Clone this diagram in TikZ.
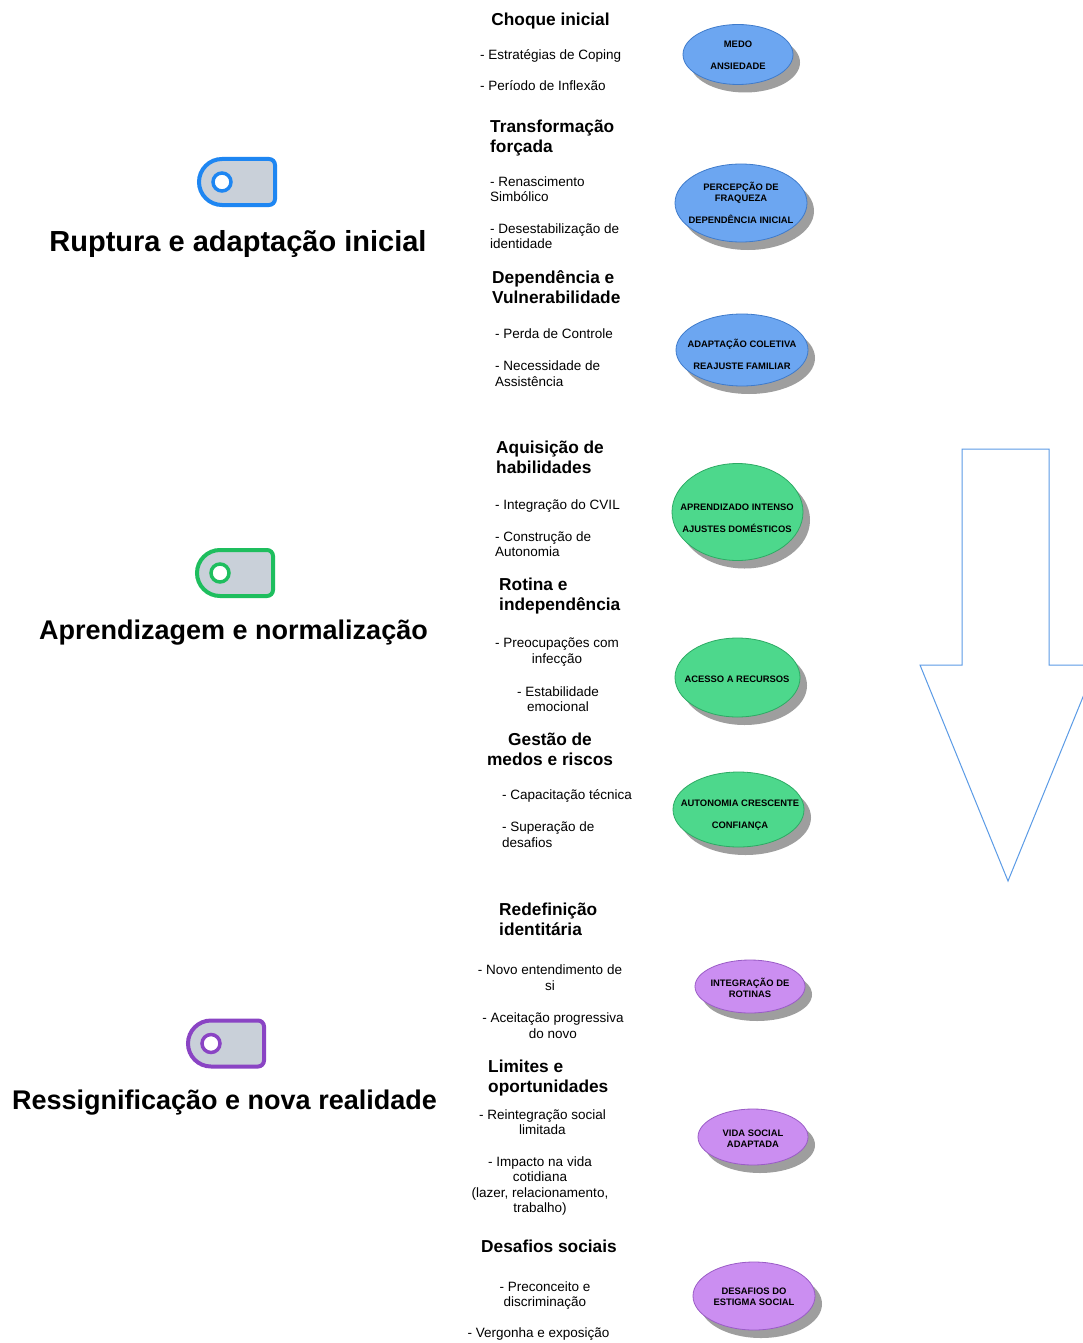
\documentclass[tikz,border=0pt]{standalone}
\usepackage{fontspec}
\setmainfont{Liberation Sans}
\definecolor{tblue}{HTML}{1E86F2}
\definecolor{tgreen}{HTML}{1EBE5E}
\definecolor{tpurple}{HTML}{8A44C4}
\definecolor{tgray}{HTML}{C9D0D9}
\definecolor{oblue}{HTML}{6CA6F1}
\definecolor{obluedark}{HTML}{3F7BCB}
\definecolor{ogreen}{HTML}{4DD88C}
\definecolor{ogreendark}{HTML}{2DAA64}
\definecolor{opurple}{HTML}{CB8EF1}
\definecolor{opurpledark}{HTML}{9A5CC6}
\definecolor{arrowc}{HTML}{5B9BE6}
\newcommand\drawoval[9]{% name, ex, ey, rx, ry, style, tx, ty, text
  \fill[ovalshadow] ({#2+7},{-#3-8}) ellipse[x radius=#4, y radius=#5];
  \draw[#6] (#2,-#3) ellipse[x radius=#4, y radius=#5];
  \node[etext] (#1) at (#7,-#8) {#9};}
\newcommand\drawtoggle[4]{% name, colour, xleft, ycenter
  \begin{scope}[shift={(#3,-#4)}]
    \draw[line width=4, draw=#2, fill=tgray] (25,-23) arc[start angle=270, end angle=90, radius=23]
      -- (72,23) arc[start angle=90, end angle=0, radius=6]
      -- (78,-17) arc[start angle=0, end angle=-90, radius=6] -- cycle;
    \draw[line width=3.5, draw=#2, fill=white] (25,0) circle[radius=9];
    \coordinate (#1) at (40,0);
  \end{scope}}
\begin{document}
\begin{tikzpicture}[x=1pt,y=1pt,
  body/.style={inner sep=0,font=\fontsize{13.5}{15.5}\selectfont},
  bodyl/.style={body,align=left,anchor=base west},
  bodyc/.style={body,align=center,anchor=base},
  head/.style={inner sep=0,font=\fontsize{17.3}{20}\selectfont\bfseries},
  headl/.style={head,align=left,anchor=base west},
  headc/.style={head,align=center,anchor=base},
  bigtitle/.style={inner sep=0,anchor=base,font=\fontsize{27}{32}\selectfont\bfseries},
  etext/.style={inner sep=0,align=center,font=\fontsize{9.4}{11}\selectfont\bfseries},
  ovalshadow/.style={fill=black!38},
  blueoval/.style={fill=oblue,draw=obluedark,line width=0.8},
  greenoval/.style={fill=ogreen,draw=ogreendark,line width=0.8},
  purpleoval/.style={fill=opurple,draw=opurpledark,line width=0.8},
]
\useasboundingbox (0,0) rectangle (1083,-1343);
\clip (0,0) rectangle (1083,-1343);
\fill[white] (0,0) rectangle (1083,-1343);

% big arrow
\draw[arrowc, line width=1, line join=miter] (962,-449) -- (1049,-449) -- (1049,-665) -- (1096,-665)
  -- (1008,-881) -- (920,-665) -- (962,-665) -- cycle;

% toggles and phase titles
\drawtoggle{tg1}{tblue}{197}{182}
\drawtoggle{tg2}{tgreen}{195}{573}
\drawtoggle{tg3}{tpurple}{186}{1043.5}
\node[bigtitle, font=\fontsize{29}{34}\selectfont\bfseries] (t1) at (238,-251.5) {Ruptura e adaptação inicial};
\node[bigtitle] (t2) at (233.5,-639) {Aprendizagem e normalização};
\node[bigtitle] (t3) at (224.5,-1109) {Ressignificação e nova realidade};

% section 1 texts
\node[headc] (h1) at (550.5,-25.5) {Choque inicial};
\node[bodyl] (i1a) at (480,-59.5) {- Estratégias de Coping};
\node[bodyl] (i1b) at (480,-90.5) {- Período de Inflexão};
\node[headl] (h2) at (490,-152.5) {Transformação\\forçada};
\node[bodyl] (i2a) at (490,-201.5) {- Renascimento\\Simbólico};
\node[bodyl] (i2b) at (490,-248.5) {- Desestabilização de\\identidade};
\node[headl] (h3) at (492,-303) {Dependência e\\Vulnerabilidade};
\node[bodyl] (i3a) at (495,-338.5) {- Perda de Controle};
\node[bodyl] (i3b) at (495,-386) {- Necessidade de\\Assistência};

% section 2 texts
\node[headl] (h4) at (496,-473.5) {Aquisição de\\habilidades};
\node[bodyl] (i4a) at (495,-509) {- Integração do CVIL};
\node[bodyl] (i4b) at (495,-556.5) {- Construção de\\Autonomia};
\node[headl] (h5) at (499,-610.5) {Rotina e\\independência};
\node[bodyc] (i5a) at (557,-663) {- Preocupações com\\infecção};
\node[bodyc] (i5b) at (558,-711.5) {- Estabilidade\\emocional};
\node[headc] (h6) at (550,-765.5) {Gestão de\\medos e riscos};
\node[bodyl] (i6a) at (502,-799.5) {- Capacitação técnica};
\node[bodyl] (i6b) at (502,-847) {- Superação de\\desafios};

% section 3 texts
\node[headl] (h7) at (499,-935.5) {Redefinição\\identitária};
\node[bodyc] (i7a) at (550,-990) {- Novo entendimento de\\si};
\node[bodyc] (i7b) at (553,-1038) {- Aceitação progressiva\\do novo};
\node[headl] (h8) at (488,-1092.5) {Limites e\\oportunidades};
\node[bodyc] (i8a) at (542.5,-1134.5) {- Reintegração social\\limitada};
\node[bodyc] (i8b) at (540,-1212.5) {- Impacto na vida\\cotidiana\\(lazer, relacionamento,\\trabalho)};
\node[headc] (h9) at (549,-1252.5) {Desafios sociais};
\node[bodyc] (i9a) at (545,-1306.5) {- Preconceito e\\discriminação};
\node[bodyc] (i9b) at (538.5,-1337) {- Vergonha e exposição};

% ovals
\drawoval{o1}{738}{54.5}{55}{30}{blueoval}{738}{55}{MEDO\\[11pt]ANSIEDADE}
\drawoval{o2}{741}{203}{66}{39}{blueoval}{741}{202.5}{PERCEPÇÃO DE\\FRAQUEZA\\[11pt]DEPENDÊNCIA INICIAL}
\drawoval{o3}{742}{350}{66}{36}{blueoval}{742}{354}{ADAPTAÇÃO COLETIVA\\[11pt]REAJUSTE FAMILIAR}
\drawoval{o4}{737.5}{512}{65.5}{48.5}{greenoval}{737}{518}{APRENDIZADO INTENSO\\[11pt]AJUSTES DOMÉSTICOS}
\drawoval{o5}{737.5}{677.5}{62.5}{39.5}{greenoval}{737}{679}{ACESSO A RECURSOS}
\drawoval{o6}{738.5}{809.5}{65.5}{37.5}{greenoval}{740}{815}{AUTONOMIA CRESCENTE\\[11pt]CONFIANÇA}
\drawoval{o7}{750}{986.5}{55}{26.5}{purpleoval}{750}{987.5}{INTEGRAÇÃO DE\\ROTINAS}
\drawoval{o8}{753}{1137}{55}{28}{purpleoval}{753}{1138.5}{VIDA SOCIAL\\ADAPTADA}
\drawoval{o9}{754}{1296}{61}{34}{purpleoval}{754}{1297}{DESAFIOS DO\\ESTIGMA SOCIAL}
\end{tikzpicture}
\end{document}
